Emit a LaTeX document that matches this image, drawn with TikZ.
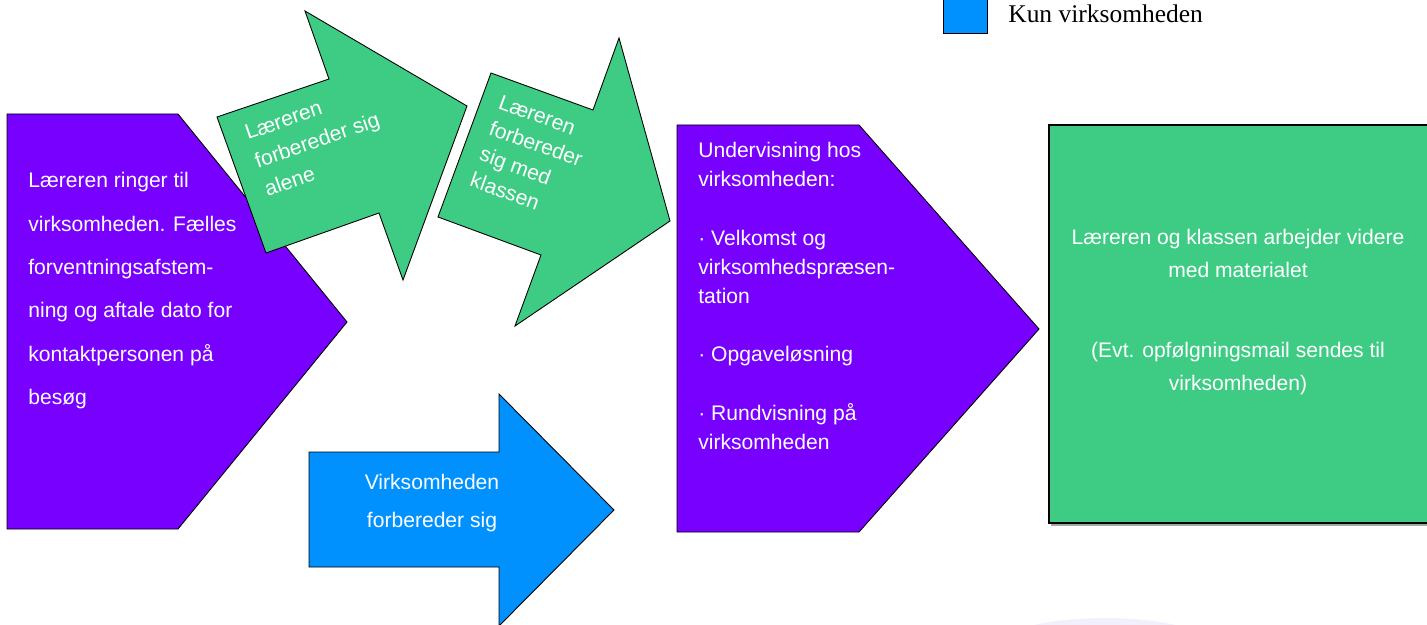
\documentclass[tikz,border=0pt]{standalone}
\usepackage{fontspec}
\setmainfont{Liberation Serif}
\setsansfont{Liberation Sans}
\usepackage{xcolor}
\usepackage{tikz}

\definecolor{lilla}{HTML}{7800FF}
\definecolor{groen}{HTML}{3ECC84}
\definecolor{blaa}{HTML}{0091FF}
\definecolor{lavendel}{HTML}{F3F0FC}

\begin{document}
\begin{tikzpicture}[x=0.02cm,y=-0.02cm,
    form/.style={draw=black,line width=0.5pt,line join=miter},
    txt/.style={text=white,inner sep=0pt,font=\sffamily\fontsize{12}{#1}\selectfont},
    txt/.default=17]
    \useasboundingbox (0,0) rectangle (1427,625);
    \clip (0,0) rectangle (1427,625);

    \fill[lavendel] (1105,642) ellipse (100 and 24);

    % legend
    \draw[form,fill=blaa] (943,-2) rectangle (987,33);
    \node[anchor=west,inner sep=0pt,font=\fontsize{14.5}{17}\selectfont] (kun) at (1008,14) {Kun virksomheden};

    % first call
    \draw[form,fill=lilla] (7,114) -- (178,114) -- (347,322) -- (178,529) -- (7,529) -- cycle;
    \node[txt=24.7,align=left,anchor=north west] (ringer) at (28,172)
      {Læreren ringer til\\virksomheden. Fælles\\forventningsafstem-\\ning og aftale dato for\\kontaktpersonen på\\besøg};

    % preparation arrows
    \draw[form,fill=groen] (217,117) -- (329,79) -- (305,11) -- (467,106) -- (403,280) -- (379,213) -- (266,253) -- cycle;
    \node[txt=17,align=left,anchor=north west,rotate=19] (alene) at (243,126)
      {Læreren\\forbereder sig\\alene};

    \draw[form,fill=groen] (491,73) -- (593,110) -- (619,38) -- (670,221) -- (515,326) -- (541,255) -- (438,217) -- cycle;
    \node[txt=15.7,align=left,anchor=north west,rotate=-20] (klassen) at (502,94)
      {Læreren\\forbereder\\sig med\\klassen};

    \draw[form,fill=blaa] (309,452) -- (499,452) -- (499,394) -- (614,510) -- (499,626) -- (499,567) -- (309,567) -- cycle;
    \node[txt=21.5,align=center] (forbereder) at (432,503) {Virksomheden\\forbereder sig};

    % the visit
    \draw[form,fill=lilla] (677,125) -- (859,125) -- (1039,329) -- (859,532) -- (677,532) -- cycle;
    \node[txt=16.6,align=left,anchor=north west] (undervisning) at (698,142)
      {Undervisning hos\\virksomheden:\\[16.6pt]%
       · Velkomst og\\virksomhedspræsen-\\tation\\[16.6pt]%
       · Opgaveløsning\\[16.6pt]%
       · Rundvisning på\\virksomheden};

    % follow-up
    \fill[black!35] (1051,127) rectangle (1429,526);
    \draw[fill=groen,line width=1pt] (1049,125) rectangle (1429,523);
    \node[txt=18.7,align=center] (videre) at (1238,312)
      {Læreren og klassen arbejder videre\\med materialet\\[27pt]%
       (Evt. opfølgningsmail sendes til\\virksomheden)};
\end{tikzpicture}
\end{document}
